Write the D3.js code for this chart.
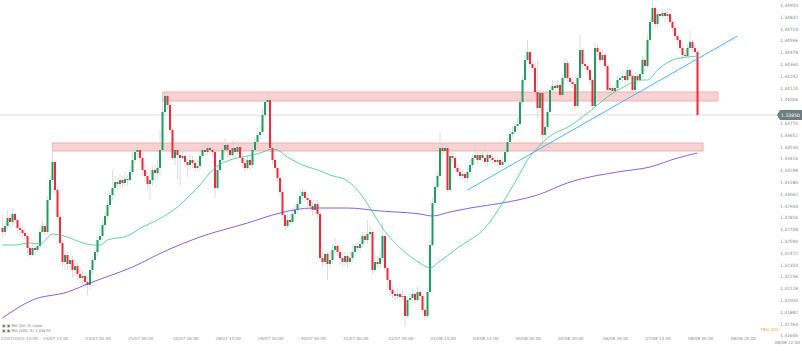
<!DOCTYPE html>
<html>
<head>
<meta charset="utf-8">
<script src="https://cdn.jsdelivr.net/npm/d3@7"></script>
<style>
  body { margin: 0; background: #fff; }
  svg { display: block; font-family: "DejaVu Sans", sans-serif; }
</style>
</head>
<body>
<div id="chart"></div>
<script>
/* CONSTANTS AND GLOBALS */
const width = 802,
  height = 351;

// H1 candles, open of each candle = close of the previous one
const firstOpen = 1.3272;
const closes = [
  1.3268,1.3274,1.3282,1.3278,1.3286,1.3280,1.3272,1.3270,1.3267,1.3264,
  1.3252,1.3245,1.3252,1.3250,1.3254,1.3268,1.3274,1.3268,1.3300,1.3320,
  1.3338,1.3310,1.3283,1.3257,1.3238,1.3245,1.3236,1.3240,1.3230,1.3234,
  1.3226,1.3222,1.3224,1.3218,1.3215,1.3230,1.3240,1.3248,1.3260,1.3264,
  1.3275,1.3284,1.3295,1.3305,1.3312,1.3318,1.3316,1.3320,1.3317,1.3321,
  1.3320,1.3328,1.3340,1.3348,1.3350,1.3342,1.3330,1.3324,1.3316,1.3320,
  1.3330,1.3327,1.3332,1.3350,1.3388,1.3404,1.3395,1.3370,1.3342,1.3350,
  1.3345,1.3342,1.3344,1.3338,1.3335,1.3340,1.3337,1.3332,1.3334,1.3344,
  1.3350,1.3348,1.3352,1.3350,1.3348,1.3312,1.3330,1.3340,1.3350,1.3355,
  1.3350,1.3345,1.3352,1.3348,1.3353,1.3342,1.3337,1.3332,1.3340,1.3335,
  1.3350,1.3358,1.3365,1.3368,1.3385,1.3398,1.3400,1.3352,1.3340,1.3332,
  1.3322,1.3308,1.3285,1.3274,1.3280,1.3278,1.3286,1.3290,1.3296,1.3304,
  1.3308,1.3302,1.3300,1.3294,1.3290,1.3296,1.3286,1.3242,1.3238,1.3246,
  1.3236,1.3240,1.3250,1.3254,1.3248,1.3242,1.3238,1.3244,1.3238,1.3242,
  1.3248,1.3254,1.3252,1.3256,1.3264,1.3260,1.3266,1.3268,1.3230,1.3238,
  1.3236,1.3242,1.3264,1.3232,1.3220,1.3210,1.3206,1.3204,1.3206,1.3203,
  1.3204,1.3184,1.3200,1.3202,1.3206,1.3200,1.3208,1.3204,1.3190,1.3184,
  1.3208,1.3255,1.3297,1.3313,1.3324,1.3352,1.3349,1.3352,1.3310,1.3344,
  1.3342,1.3332,1.3328,1.3324,1.3326,1.3322,1.3328,1.3335,1.3342,1.3345,
  1.3340,1.3345,1.3342,1.3338,1.3345,1.3342,1.3340,1.3338,1.3340,1.3335,
  1.3338,1.3348,1.3358,1.3366,1.3368,1.3374,1.3376,1.3398,1.3420,1.3440,
  1.3448,1.3436,1.3432,1.3408,1.3392,1.3407,1.3365,1.3373,1.3388,1.3410,
  1.3414,1.3412,1.3415,1.3405,1.3422,1.3437,1.3422,1.3418,1.3416,1.3394,
  1.3422,1.3450,1.3436,1.3434,1.3430,1.3420,1.3394,1.3452,1.3448,1.3440,
  1.3445,1.3434,1.3410,1.3412,1.3409,1.3412,1.3420,1.3422,1.3424,1.3420,
  1.3430,1.3424,1.3410,1.3424,1.3420,1.3426,1.3440,1.3434,1.3460,1.3478,
  1.3492,1.3476,1.3486,1.3484,1.3487,1.3484,1.3486,1.3478,1.3472,1.3464,
  1.3460,1.3452,1.3445,1.3444,1.3452,1.3458,1.3452,1.3448,1.3385
];
const highs = [
  1.3285,1.3280,1.3290,1.3286,1.3292,1.3288,1.3282,1.3276,1.3274,1.3272,
  1.3266,1.3254,1.3256,1.3254,1.3258,1.3272,1.3278,1.3276,1.3304,1.3324,
  1.3355,1.3340,1.3314,1.3286,1.3260,1.3250,1.3248,1.3246,1.3244,1.3240,
  1.3238,1.3232,1.3230,1.3228,1.3224,1.3234,1.3244,1.3252,1.3264,1.3272,
  1.3280,1.3288,1.3300,1.3310,1.3330,1.3324,1.3322,1.3326,1.3324,1.3328,
  1.3325,1.3334,1.3350,1.3352,1.3354,1.3352,1.3348,1.3336,1.3328,1.3332,
  1.3334,1.3335,1.3340,1.3370,1.3408,1.3408,1.3406,1.3400,1.3372,1.3355,
  1.3354,1.3350,1.3350,1.3346,1.3342,1.3346,1.3344,1.3340,1.3340,1.3352,
  1.3354,1.3355,1.3358,1.3356,1.3354,1.3350,1.3336,1.3346,1.3356,1.3362,
  1.3356,1.3354,1.3360,1.3355,1.3359,1.3356,1.3346,1.3342,1.3345,1.3344,
  1.3354,1.3362,1.3372,1.3375,1.3392,1.3404,1.3407,1.3402,1.3354,1.3344,
  1.3334,1.3324,1.3310,1.3288,1.3286,1.3286,1.3292,1.3296,1.3302,1.3310,
  1.3312,1.3310,1.3306,1.3302,1.3298,1.3300,1.3300,1.3290,1.3250,1.3250,
  1.3248,1.3248,1.3256,1.3262,1.3256,1.3252,1.3248,1.3248,1.3246,1.3248,
  1.3254,1.3258,1.3258,1.3262,1.3268,1.3268,1.3280,1.3274,1.3270,1.3246,
  1.3244,1.3250,1.3278,1.3266,1.3234,1.3222,1.3214,1.3210,1.3212,1.3210,
  1.3210,1.3206,1.3204,1.3208,1.3212,1.3210,1.3214,1.3210,1.3206,1.3194,
  1.3212,1.3260,1.3302,1.3318,1.3330,1.3368,1.3356,1.3356,1.3354,1.3350,
  1.3348,1.3344,1.3336,1.3332,1.3330,1.3328,1.3332,1.3340,1.3346,1.3355,
  1.3348,1.3350,1.3348,1.3357,1.3350,1.3348,1.3345,1.3344,1.3344,1.3342,
  1.3342,1.3352,1.3362,1.3372,1.3374,1.3378,1.3382,1.3402,1.3425,1.3445,
  1.3460,1.3450,1.3440,1.3438,1.3440,1.3410,1.3408,1.3378,1.3392,1.3414,
  1.3420,1.3420,1.3420,1.3416,1.3426,1.3442,1.3440,1.3424,1.3422,1.3420,
  1.3426,1.3465,1.3452,1.3440,1.3436,1.3432,1.3422,1.3458,1.3456,1.3452,
  1.3450,1.3448,1.3436,1.3416,1.3414,1.3416,1.3424,1.3428,1.3430,1.3428,
  1.3434,1.3432,1.3426,1.3428,1.3426,1.3430,1.3444,1.3444,1.3466,1.3482,
  1.3500,1.3494,1.3490,1.3489,1.3491,1.3490,1.3492,1.3492,1.3480,1.3474,
  1.3466,1.3462,1.3454,1.3450,1.3456,1.3470,1.3460,1.3456,1.3450
];
const lows = [
  1.3262,1.3264,1.3270,1.3272,1.3274,1.3276,1.3266,1.3264,1.3262,1.3260,
  1.3244,1.3242,1.3244,1.3245,1.3248,1.3252,1.3266,1.3264,1.3266,1.3298,
  1.3318,1.3306,1.3280,1.3254,1.3233,1.3230,1.3230,1.3228,1.3223,1.3224,
  1.3220,1.3217,1.3215,1.3212,1.3205,1.3210,1.3226,1.3236,1.3244,1.3256,
  1.3260,1.3270,1.3280,1.3290,1.3300,1.3308,1.3310,1.3312,1.3312,1.3314,
  1.3314,1.3316,1.3325,1.3336,1.3344,1.3338,1.3324,1.3318,1.3310,1.3300,
  1.3314,1.3320,1.3322,1.3325,1.3348,1.3382,1.3390,1.3366,1.3340,1.3335,
  1.3320,1.3314,1.3340,1.3332,1.3323,1.3330,1.3332,1.3328,1.3330,1.3330,
  1.3342,1.3344,1.3345,1.3346,1.3342,1.3302,1.3310,1.3328,1.3338,1.3346,
  1.3342,1.3340,1.3343,1.3342,1.3345,1.3338,1.3332,1.3328,1.3330,1.3330,
  1.3332,1.3348,1.3352,1.3360,1.3366,1.3382,1.3394,1.3348,1.3336,1.3328,
  1.3318,1.3304,1.3280,1.3270,1.3272,1.3274,1.3276,1.3282,1.3286,1.3292,
  1.3300,1.3298,1.3294,1.3288,1.3284,1.3286,1.3282,1.3238,1.3232,1.3234,
  1.3220,1.3232,1.3236,1.3246,1.3244,1.3236,1.3234,1.3234,1.3232,1.3236,
  1.3240,1.3244,1.3248,1.3248,1.3252,1.3256,1.3256,1.3262,1.3226,1.3228,
  1.3232,1.3232,1.3238,1.3228,1.3212,1.3204,1.3202,1.3200,1.3202,1.3198,
  1.3200,1.3173,1.3182,1.3196,1.3198,1.3196,1.3198,1.3200,1.3186,1.3180,
  1.3182,1.3206,1.3254,1.3294,1.3310,1.3322,1.3344,1.3346,1.3308,1.3310,
  1.3338,1.3328,1.3324,1.3320,1.3320,1.3318,1.3317,1.3324,1.3332,1.3340,
  1.3336,1.3338,1.3338,1.3334,1.3334,1.3338,1.3336,1.3334,1.3335,1.3332,
  1.3332,1.3336,1.3346,1.3356,1.3362,1.3366,1.3370,1.3374,1.3394,1.3416,
  1.3438,1.3432,1.3428,1.3404,1.3382,1.3388,1.3348,1.3362,1.3370,1.3386,
  1.3408,1.3408,1.3410,1.3402,1.3403,1.3420,1.3418,1.3414,1.3412,1.3390,
  1.3392,1.3420,1.3432,1.3430,1.3426,1.3416,1.3390,1.3392,1.3444,1.3436,
  1.3438,1.3430,1.3406,1.3406,1.3406,1.3407,1.3410,1.3416,1.3418,1.3416,
  1.3418,1.3420,1.3406,1.3408,1.3416,1.3418,1.3422,1.3430,1.3432,1.3456,
  1.3476,1.3472,1.3472,1.3480,1.3482,1.3478,1.3480,1.3475,1.3468,1.3460,
  1.3456,1.3448,1.3440,1.3442,1.3442,1.3450,1.3448,1.3446,1.3384
];
const opens = [firstOpen, ...closes.slice(0, -1)];

// moving averages: [candle index, price]
const maFast = [
  [0,1.3255],[5,1.3255],[11,1.3257],[15,1.3256],[20,1.3266],[26,1.3263],[31,1.3258],
  [36,1.3255],[39,1.3255],[42,1.3260],[50,1.3264],[56,1.3273],[62,1.3280],[64,1.3283],
  [70,1.3293],[75,1.3305],[79,1.3315],[84,1.3330],[91,1.3340],[98,1.3344],[103,1.3347],
  [108,1.3351],[110,1.3350],[114,1.3343],[120,1.3335],[126,1.3330],[131,1.3325],
  [138,1.3319],[143,1.3307],[147,1.3292],[152,1.3272],[160,1.3250],[167,1.3237],
  [171,1.3232],[174,1.3237],[182,1.3252],[194,1.3275],[200,1.3297],[206,1.3322],
  [210,1.3340],[214,1.3352],[219,1.3364],[227,1.3374],[232,1.3383],[239,1.3397],
  [243,1.3405],[250,1.3415],[254,1.3420],[258,1.3420],[262,1.3430],[268,1.3440],
  [274,1.3443],[278,1.3444]
];
const maSlow = [
  [0,1.3182],[12,1.3200],[26,1.3208],[35,1.3217],[52,1.3233],[66,1.3250],[79,1.3263],
  [98,1.3277],[111,1.3287],[124,1.3292],[138,1.3292],[151,1.3289],[167,1.3286],
  [172,1.3284],[179,1.3288],[187,1.3292],[200,1.3297],[214,1.3305],[227,1.3318],
  [246,1.3328],[259,1.3333],[270,1.3342],[278,1.3347]
];

// zones: [start index, end index, top price, bottom price]
const zones = [
  [64, 286.2, 1.3408, 1.3399],
  [20, 280.2, 1.3357, 1.3349]
];
const trendLine = [[186, 1.3310], [294, 1.3464]];
const lastPrice = 1.3385;

const priceTicks = [
  1.34950,1.34832,1.34714,1.34596,1.34478,1.34360,1.34242,1.34124,1.34006,1.33888,
  1.33770,1.33652,1.33534,1.33416,1.33298,1.33180,1.33062,1.32944,1.32826,1.32708,
  1.32590,1.32472,1.32354,1.32236,1.32118,1.32000,1.31882,1.31764,1.31646
];
const timeTickIdx = [-1, 16, 33, 50, 68, 85, 102, 119, 136, 154, 171, 188, 205, 222, 240, 257, 274, 291];
const timeTickLabels = [
  "22/07/2025 15:00", "23/07 13:00", "24/07 05:00", "25/07 00:00", "25/07 16:00",
  "28/07 13:00", "29/07 10:00", "30/07 05:00", "31/07 00:00", "31/07 16:00",
  "01/08 14:00", "04/08 13:00", "05/08 05:00", "05/08 20:00", "06/08 16:00",
  "07/08 14:00", "08/08 05:00", "08/08 20:00"
];

const upColor = "#1f9d5e",
  downColor = "#f2283d",
  wickColor = "#d6d6d6";

const svg = d3.select("#chart")
  .append("svg")
  .attr("width", width)
  .attr("height", height);

svg.append("rect").attr("width", width).attr("height", height).attr("fill", "#fff");

// + SCALES
const xScale = d3.scaleLinear()
  .domain([0, closes.length - 1])
  .range([2.5, 697.5]);
const yScale = d3.scaleLinear()
  .domain([1.3149, 1.35])
  .range([351, 0]);

// last price line
svg.append("line")
  .attr("x1", 0).attr("x2", 778)
  .attr("y1", yScale(lastPrice)).attr("y2", yScale(lastPrice))
  .attr("stroke", "#d4d4d4")
  .attr("stroke-width", 0.8);

// + ZONES
svg.selectAll(".zone")
  .data(zones)
  .join("rect")
  .attr("class", "zone")
  .attr("x", d => xScale(d[0]))
  .attr("width", d => xScale(d[1]) - xScale(d[0]))
  .attr("y", d => yScale(d[2]))
  .attr("height", d => yScale(d[3]) - yScale(d[2]))
  .attr("fill", "#f9d3d3")
  .attr("stroke", "#eba3a3")
  .attr("stroke-width", 0.8);

// + CANDLES
const candles = closes.map((c, i) => ({
  i: i,
  o: opens[i],
  c: c,
  h: Math.max(highs[i], opens[i], c),
  l: Math.min(lows[i], opens[i], c)
}));

svg.selectAll(".wick")
  .data(candles)
  .join("line")
  .attr("class", "wick")
  .attr("x1", d => xScale(d.i))
  .attr("x2", d => xScale(d.i))
  .attr("y1", d => yScale(d.h))
  .attr("y2", d => yScale(d.l))
  .attr("stroke", wickColor)
  .attr("stroke-width", 0.8);

svg.selectAll(".body")
  .data(candles)
  .join("rect")
  .attr("class", "body")
  .attr("x", d => xScale(d.i) - 1)
  .attr("width", 2)
  .attr("y", d => yScale(Math.max(d.o, d.c)))
  .attr("height", d => Math.max(1, Math.abs(yScale(d.o) - yScale(d.c))))
  .attr("fill", d => d.c >= d.o ? upColor : downColor);

// + MOVING AVERAGES
const lineGen = d3.line()
  .x(d => xScale(d[0]))
  .y(d => yScale(d[1]))
  .curve(d3.curveMonotoneX);

svg.append("path")
  .attr("d", lineGen(maSlow))
  .attr("fill", "none")
  .attr("stroke", "#7b4fd6")
  .attr("stroke-width", 0.9);

svg.append("path")
  .attr("d", lineGen(maFast))
  .attr("fill", "none")
  .attr("stroke", "#3cc48d")
  .attr("stroke-width", 0.8);

// trend line
svg.append("path")
  .attr("d", d3.line().x(d => xScale(d[0])).y(d => yScale(d[1]))(trendLine))
  .attr("fill", "none")
  .attr("stroke", "#3ea9f2")
  .attr("stroke-width", 0.9);

// + AXES
const yAxis = d3.axisRight(yScale)
  .tickValues(priceTicks)
  .tickFormat(d3.format(".5f"))
  .tickSize(0)
  .tickPadding(0);

const yAxisGroup = svg.append("g")
  .attr("transform", "translate(780, 0)")
  .call(yAxis);
yAxisGroup.select(".domain").remove();
yAxisGroup.selectAll("text")
  .attr("font-size", 4.4)
  .attr("font-family", "DejaVu Sans, sans-serif")
  .attr("fill", "#8c8c8c");

const xAxis = d3.axisBottom(xScale)
  .tickValues(timeTickIdx)
  .tickFormat((d, i) => timeTickLabels[i])
  .tickSize(0)
  .tickPadding(0);

const xAxisGroup = svg.append("g")
  .attr("transform", "translate(0, 337)")
  .call(xAxis);
xAxisGroup.select(".domain").remove();
xAxisGroup.selectAll("text")
  .attr("text-anchor", "start")
  .attr("font-size", 4.2)
  .attr("font-family", "DejaVu Sans, sans-serif")
  .attr("fill", "#8c8c8c");

// current price tag
const tagY = yScale(lastPrice);
svg.append("path")
  .attr("d", `M777,${tagY} L780,${tagY - 5} L802,${tagY - 5} L802,${tagY + 5} L780,${tagY + 5} Z`)
  .attr("fill", "#6f7c82");
svg.append("text")
  .attr("x", 781)
  .attr("y", tagY)
  .attr("dy", "0.35em")
  .attr("font-size", 4.6)
  .attr("fill", "#fff")
  .text(d3.format(".5f")(lastPrice));

// candle countdown and last time
svg.append("text")
  .attr("x", 760)
  .attr("y", 331)
  .attr("font-size", 4.2)
  .attr("fill", "#f5a12e")
  .text("78m 32s");

svg.append("text")
  .attr("x", 800)
  .attr("y", 344)
  .attr("text-anchor", "end")
  .attr("font-size", 4.2)
  .attr("fill", "#8c8c8c")
  .text("08/08 22:00");

// indicator legend
svg.append("text")
  .attr("x", 2)
  .attr("y", 327)
  .attr("font-size", 3.8)
  .attr("fill", "#777")
  .text("▣ ▣ MA (50, 0) close");
svg.append("text")
  .attr("x", 2)
  .attr("y", 332)
  .attr("font-size", 3.8)
  .attr("fill", "#777")
  .text("▣ ▣ MA (200, 0) 1.33470");
</script>
</body>
</html>
